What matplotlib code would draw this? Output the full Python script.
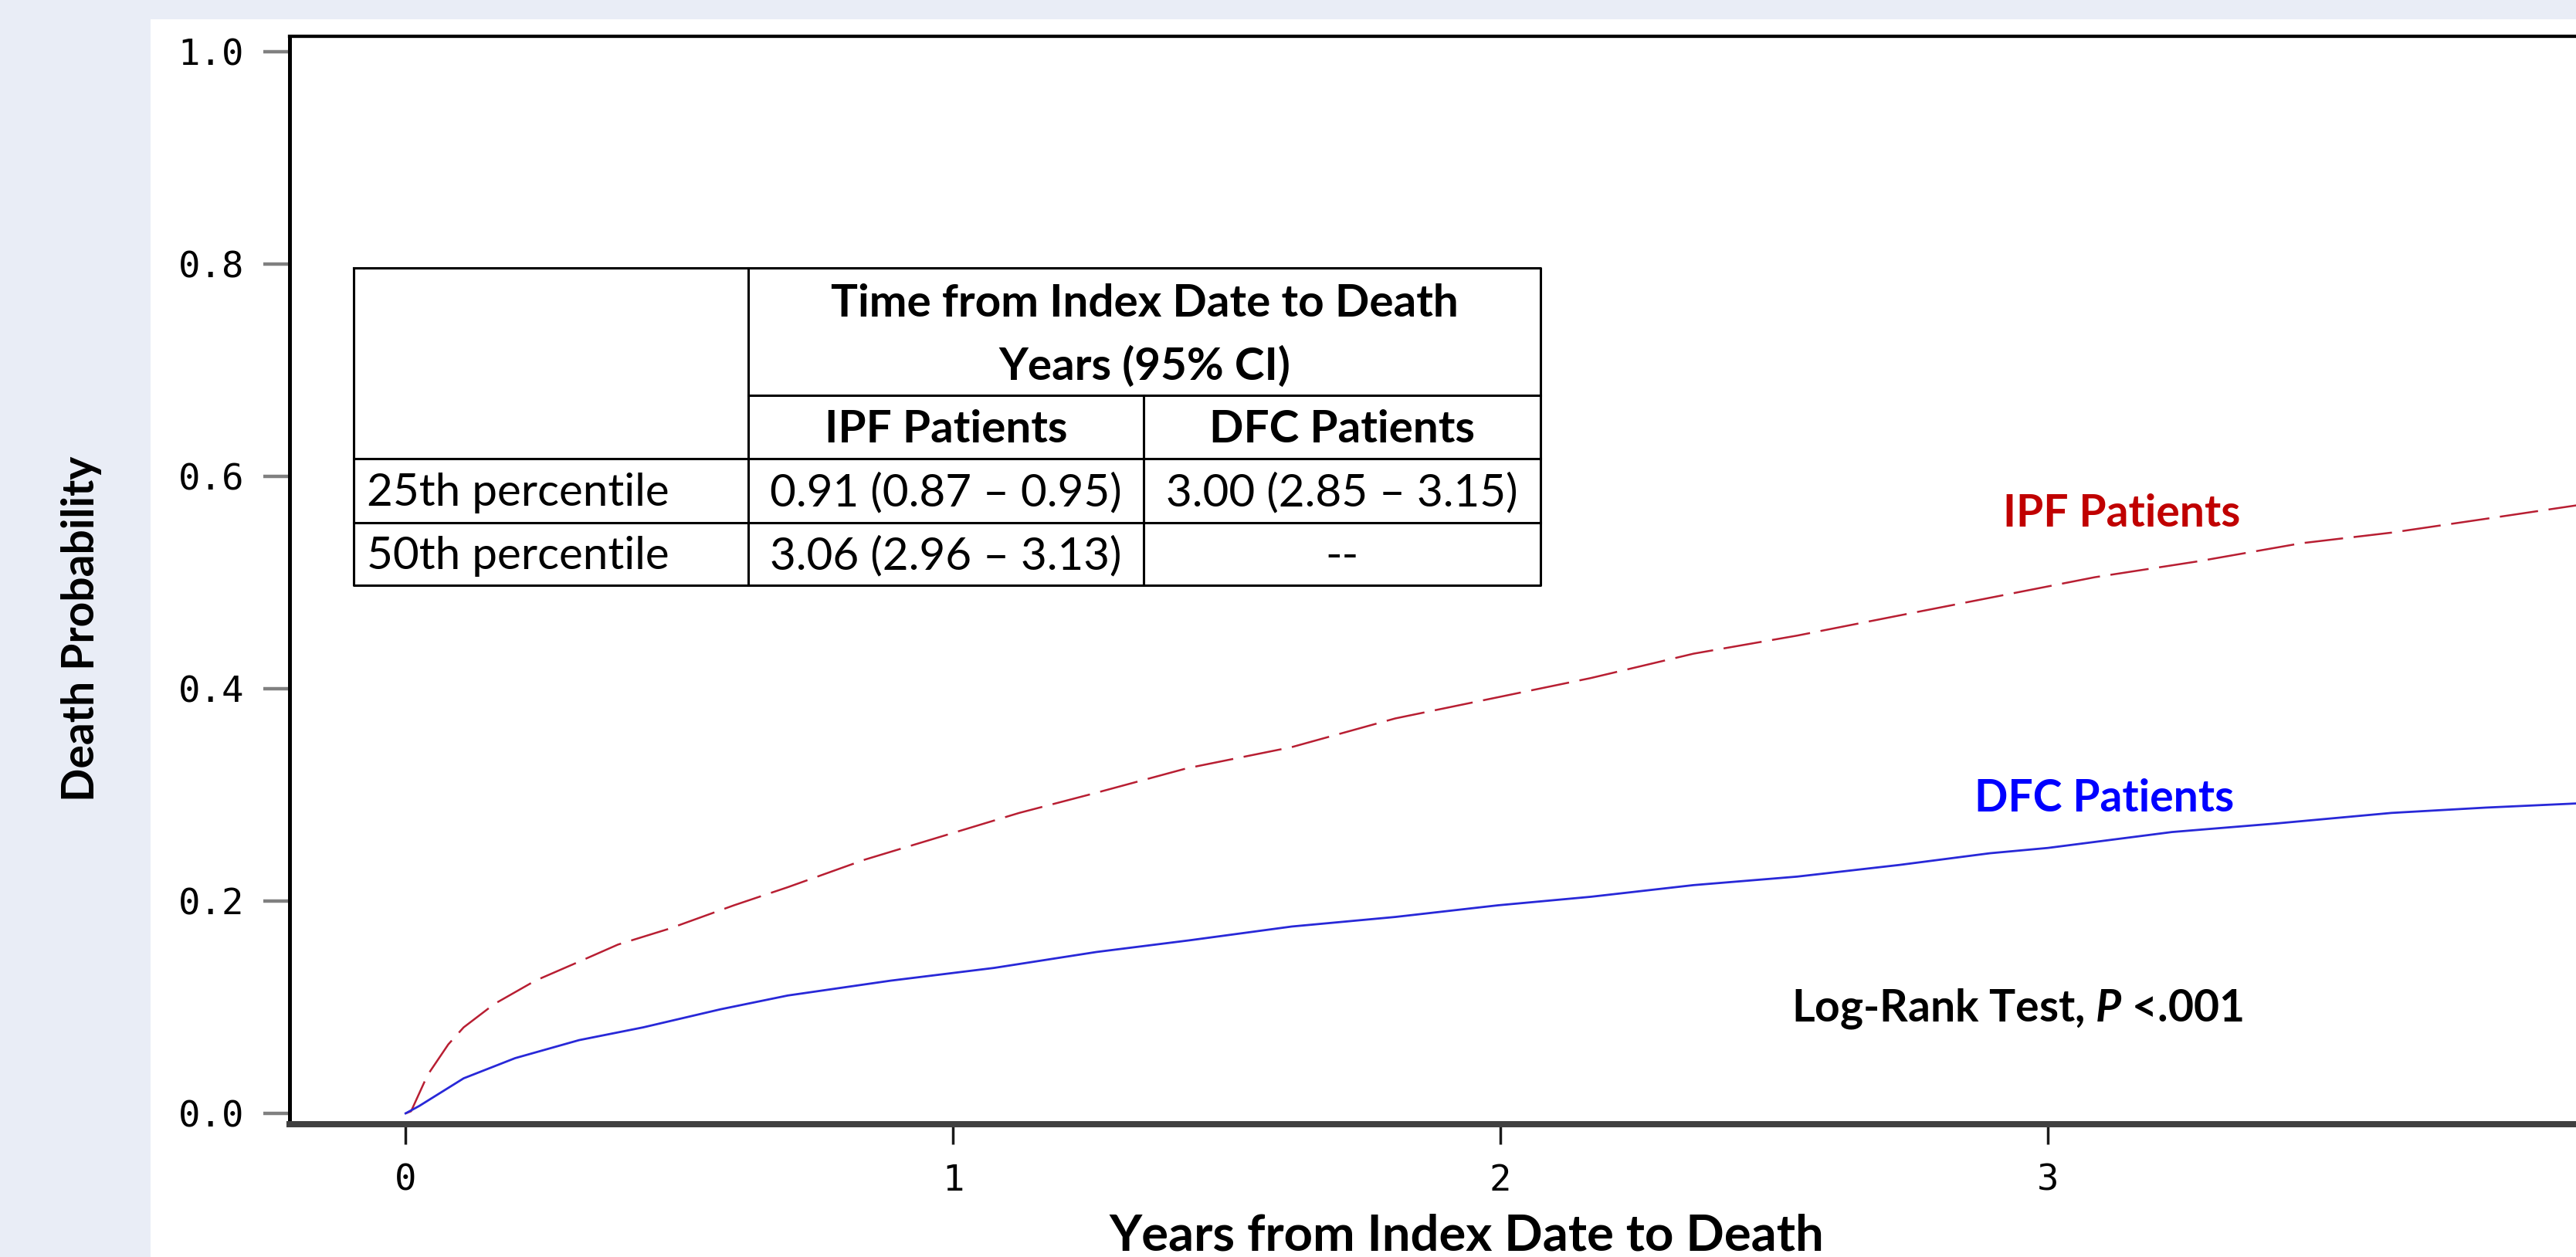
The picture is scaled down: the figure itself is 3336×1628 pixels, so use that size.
import numpy as np
import matplotlib
matplotlib.use('Agg')
import matplotlib.pyplot as plt
from matplotlib.patches import Rectangle

plt.rcParams['font.family'] = ['Lato', 'DejaVu Sans']
plt.rcParams['mathtext.fontset'] = 'custom'
plt.rcParams['mathtext.bfit'] = 'Lato:italic:bold'

# cumulative death probability
ipf_years = [0, 0.01, 0.04, 0.078, 0.106, 0.162, 0.237, 0.313, 0.388, 0.482, 0.60, 0.698,
             0.839, 0.98, 1.121, 1.262, 1.427, 1.619, 1.808, 1.996, 2.165, 2.353, 2.542,
             2.729, 2.898, 3.086, 3.275, 3.463, 3.628, 3.80, 3.97]
ipf_prob = [0, 0.002, 0.036, 0.065, 0.081, 0.103, 0.125, 0.142, 0.159, 0.174, 0.196, 0.213,
            0.239, 0.261, 0.283, 0.302, 0.325, 0.345, 0.372, 0.392, 0.410, 0.433, 0.450,
            0.469, 0.486, 0.505, 0.520, 0.537, 0.547, 0.560, 0.573]

dfc_years = [0, 0.025, 0.106, 0.20, 0.317, 0.434, 0.575, 0.698, 0.886, 1.075, 1.262, 1.432,
             1.619, 1.808, 1.996, 2.165, 2.353, 2.542, 2.729, 2.894, 3.0, 3.227, 3.416,
             3.628, 3.80, 3.97]
dfc_prob = [0, 0.007, 0.033, 0.052, 0.069, 0.081, 0.098, 0.111, 0.125, 0.137, 0.152, 0.163,
            0.176, 0.185, 0.196, 0.204, 0.215, 0.223, 0.234, 0.245, 0.250, 0.265, 0.273,
            0.283, 0.288, 0.292]

x_ticks = [0, 1, 2, 3]
y_ticks = [0.0, 0.2, 0.4, 0.6, 0.8, 1.0]

# table content
table_header = ['Time from Index Date to Death', 'Years (95% CI)']
table_groups = ['IPF Patients', 'DFC Patients']
table_rows = ['25th percentile', '50th percentile']
table_ipf = ['0.91 (0.87 \u2013 0.95)', '3.06 (2.96 \u2013 3.13)']
table_dfc = ['3.00 (2.85 \u2013 3.15)', '--']

W, H = 3336, 1628
fig = plt.figure(figsize=(W / 100, H / 100), dpi=100, facecolor='#E9EDF6')
fig.patches.append(Rectangle((195 / W, 0), 1 - 195 / W, 1 - 25 / H, transform=fig.transFigure,
                             facecolor='white', edgecolor='none', zorder=-10))

ax = fig.add_axes([375 / W, (H - 1456) / H, (W - 375) / W, (1456 - 47) / H])
ax.patch.set_alpha(0)
ax.plot(ipf_years, ipf_prob, color='#B81E32', lw=1.8, dashes=(20, 5.5))
ax.plot(dfc_years, dfc_prob, color='#2828D8', lw=2.0)
ax.set_xlim(-0.212, 3.965)
ax.set_ylim(-0.0102, 1.0145)
ax.set_xticks(x_ticks)
ax.set_xticklabels([str(t) for t in x_ticks])
ax.set_yticks(y_ticks)
ax.set_yticklabels(['%.1f' % t for t in y_ticks])
for lab in ax.get_xticklabels() + ax.get_yticklabels():
    lab.set_fontfamily('DejaVu Sans Mono')
    lab.set_fontsize(34)
ax.tick_params(axis='y', length=24.5, width=3.2, color='#808080', pad=18)
ax.tick_params(axis='x', length=18.7, width=2.5, color='#1a1a1a', pad=18)
ax.spines['right'].set_visible(False)
ax.spines['left'].set_linewidth(3.6)
ax.spines['top'].set_linewidth(3.1)
ax.spines['bottom'].set_linewidth(5.8)
ax.spines['bottom'].set_color('#404040')

ax.text(3.135, 0.553, 'IPF Patients', color='#C00000', fontsize=41, fontweight='bold',
        ha='center', va='baseline')
ax.text(3.103, 0.284, 'DFC Patients', color='#0000FF', fontsize=41, fontweight='bold',
        ha='center', va='baseline')
ax.text(2.944, 0.087, r'Log-Rank Test, $\mathbfit{P}$ <.001', color='black', fontsize=41,
        fontweight='bold', ha='center', va='baseline')

# overlay in pixel units for labels and the table
ov = fig.add_axes([0, 0, 1, 1])
ov.set_xlim(0, W)
ov.set_ylim(H, 0)
ov.axis('off')
ov.patch.set_alpha(0)

ov.text(106, 814, 'Death Probability', rotation=90, ha='center', va='center',
        fontsize=41, fontweight='bold')
ov.text(1899, 1619, 'Years from Index Date to Death', ha='center', va='baseline',
        fontsize=47, fontweight='bold')

cols = [458, 969, 1481, 1995]
rows = [347, 512, 594, 677, 758]
lk = dict(color='black', lw=2.2, solid_capstyle='projecting')
ov.plot([cols[0], cols[3], cols[3], cols[0], cols[0]], [rows[0], rows[0], rows[4], rows[4], rows[0]], **lk)
ov.plot([cols[1], cols[1]], [rows[0], rows[4]], **lk)
ov.plot([cols[2], cols[2]], [rows[1], rows[4]], **lk)
ov.plot([cols[1], cols[3]], [rows[1], rows[1]], **lk)
for r in rows[2:4]:
    ov.plot([cols[0], cols[3]], [r, r], **lk)

fs = 42
hc = (cols[1] + cols[3]) / 2
ov.text(hc, 410, table_header[0], ha='center', va='baseline', fontsize=fs, fontweight='bold')
ov.text(hc, 492, table_header[1], ha='center', va='baseline', fontsize=fs, fontweight='bold')
c2 = (cols[1] + cols[2]) / 2
c3 = (cols[2] + cols[3]) / 2
ov.text(c2, 573, table_groups[0], ha='center', va='baseline', fontsize=fs, fontweight='bold')
ov.text(c3, 573, table_groups[1], ha='center', va='baseline', fontsize=fs, fontweight='bold')
for i, yb in enumerate([655, 737]):
    ov.text(cols[0] + 17, yb, table_rows[i], ha='left', va='baseline', fontsize=fs)
    ov.text(c2, yb, table_ipf[i], ha='center', va='baseline', fontsize=fs)
    ov.text(c3, yb, table_dfc[i], ha='center', va='baseline', fontsize=fs)

fig.savefig('out.png', dpi=100, facecolor=fig.get_facecolor())
